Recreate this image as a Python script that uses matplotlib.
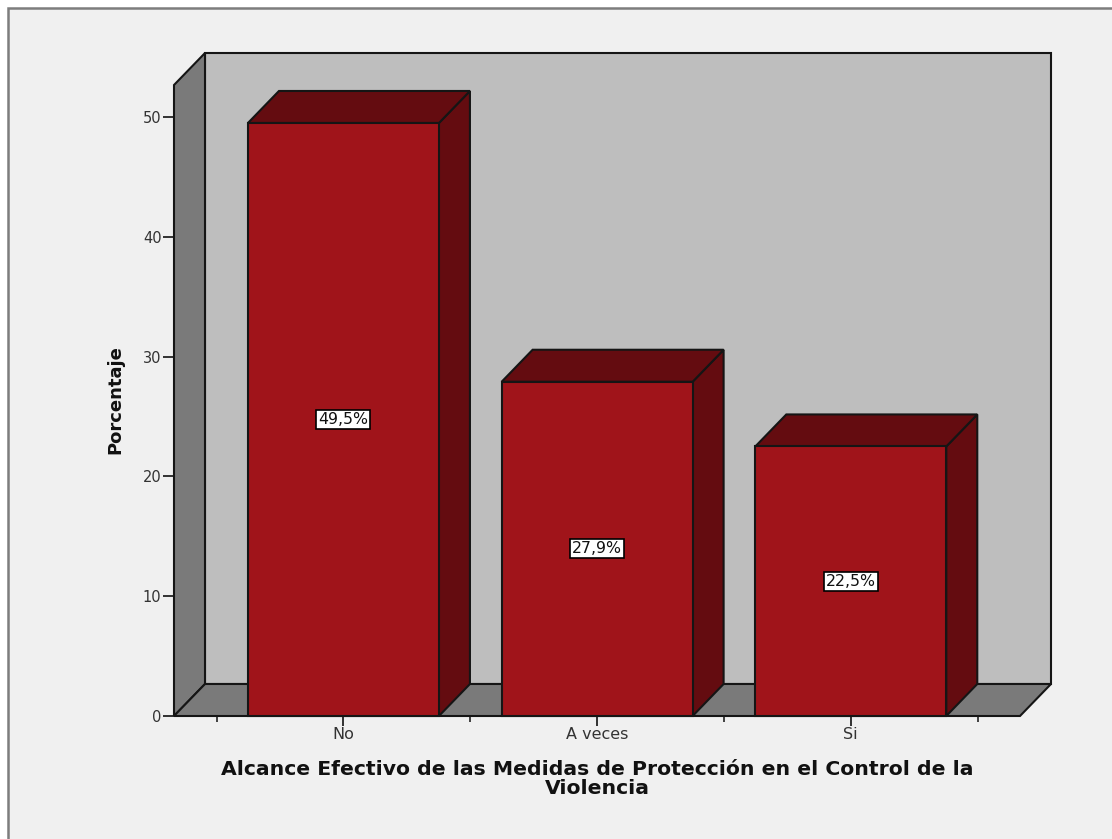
import matplotlib
matplotlib.use('Agg')
import matplotlib.pyplot as plt
from matplotlib.patches import Polygon, Rectangle

categories = ['No', 'A veces', 'Si']
percent = [49.5, 27.9, 22.5]
value_labels = ['49,5%', '27,9%', '22,5%']
y_ticks = [0, 10, 20, 30, 40, 50]

W, H = 1112, 839
RED = '#a0141a'
DARK = '#640c10'
WALL = '#bebebe'
SIDE = '#7a7a7a'
EDGE = '#151515'
LW = 1.5

plt.rcParams['font.family'] = ['DejaVu Sans']

fig = plt.figure(figsize=(W / 100, H / 100), dpi=100, facecolor='white')
fig.add_artist(Rectangle((8 / W, -0.01), 1.01, 1.01 - 8 / H, transform=fig.transFigure,
                         facecolor='#f0f0f0', edgecolor='#7d7d7d', linewidth=1.8, zorder=-1))

ax = fig.add_axes([174 / W, 1 - 716 / H, (1020 - 174) / W, (716 - 85) / H])
ax.patch.set_alpha(0)
ax.set_xlim(-0.668, 2.667)
ax.set_ylim(0, 52.67)
x0, x1 = ax.get_xlim()
y0, y1 = ax.get_ylim()

# depth of the fake 3d box, in data units
dx = 31 / 253.7
dy = 32 / 11.98


def poly(pts, color, z):
    ax.add_patch(Polygon(pts, closed=True, facecolor=color, edgecolor=EDGE,
                         linewidth=LW, clip_on=False, zorder=z, joinstyle='miter'))


# walls and floor
poly([(x0 + dx, y0 + dy), (x1 + dx, y0 + dy), (x1 + dx, y1 + dy), (x0 + dx, y1 + dy)], WALL, 1)
poly([(x0, y0), (x0 + dx, y0 + dy), (x0 + dx, y1 + dy), (x0, y1)], SIDE, 2)
poly([(x0, y0), (x1, y0), (x1 + dx, y0 + dy), (x0 + dx, y0 + dy)], SIDE, 2)

# bars
bw = 191 / 253.7
for i, v in enumerate(percent):
    l, r = i - bw / 2, i + bw / 2
    poly([(r, 0), (r + dx, dy), (r + dx, v + dy), (r, v)], DARK, 3)
    poly([(l, v), (r, v), (r + dx, v + dy), (l + dx, v + dy)], DARK, 3)
    poly([(l, 0), (r, 0), (r, v), (l, v)], RED, 4)
    ax.text(i, v / 2, value_labels[i], ha='center', va='center', fontsize=11.3, color='#111111',
            zorder=6, bbox=dict(boxstyle='square,pad=0.13', facecolor='white', edgecolor='black', linewidth=1.2))

for s in ax.spines.values():
    s.set_visible(False)

ax.set_yticks(y_ticks)
ax.set_xticks(range(len(categories)))
ax.set_xticklabels(categories)
ax.set_xticks([-0.5, 0.5, 1.5, 2.5], minor=True)
ax.tick_params(axis='y', length=8, width=1.3, color='#222222', labelsize=10.5, labelcolor='#333333', pad=1)
ax.tick_params(axis='x', which='major', length=7, width=1.3, color='#222222', labelsize=11.5, labelcolor='#333333', pad=1)
ax.tick_params(axis='x', which='minor', length=4, width=1.2, color='#222222')

fig.text(597 / W, 1 - 779 / H, 'Alcance Efectivo de las Medidas de Protección en el Control de la\nViolencia',
         ha='center', va='center', fontsize=14.7, fontweight='bold', color='#111111', linespacing=0.97)
fig.text(115 / W, 1 - 400 / H, 'Porcentaje', ha='center', va='center', rotation=90,
         fontsize=13, fontweight='bold', color='#111111')

fig.savefig('out.png', dpi=100, facecolor=fig.get_facecolor())
